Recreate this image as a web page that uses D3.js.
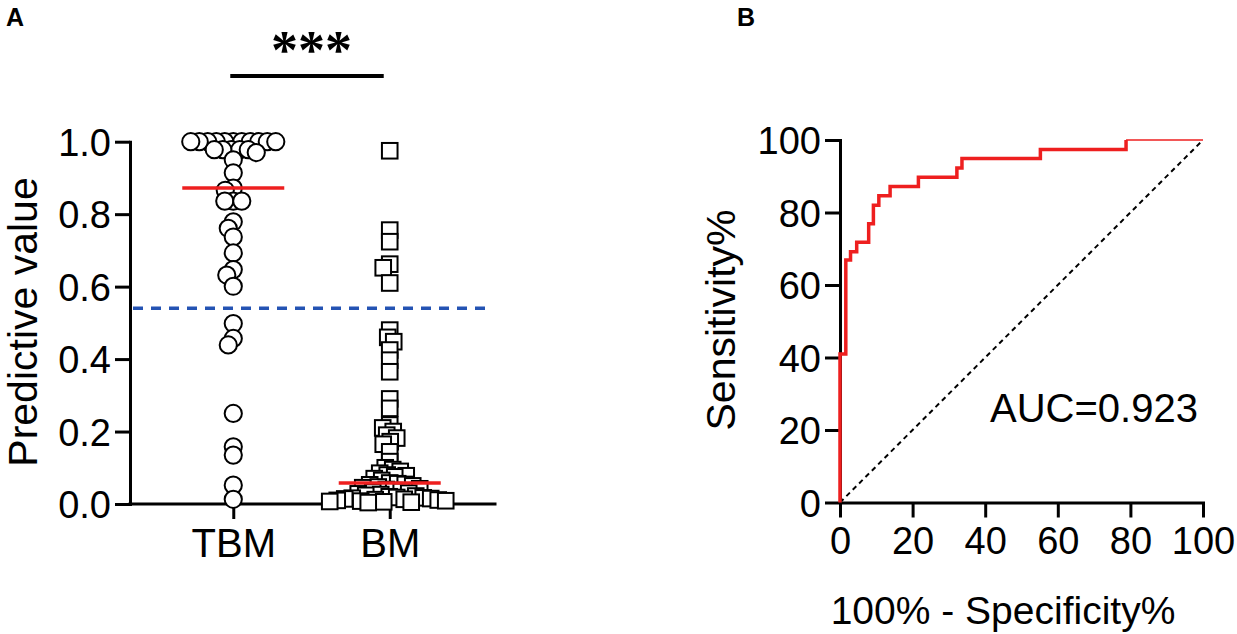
<!DOCTYPE html>
<html><head><meta charset="utf-8">
<script src="https://cdn.jsdelivr.net/npm/d3@7/dist/d3.min.js"></script>
<style>
body{margin:0;background:#fff}
svg text{font-family:"Liberation Sans",Arial,Helvetica,sans-serif;fill:#000}
</style>
</head><body>
<svg id="chart" width="1237" height="634"></svg>
<script>
// ---------------- DATA ----------------
const groups = ["TBM", "BM"];
const tbmValues = [1.0,1.0,1.0,1.0,1.0,1.0,1.0,1.0,1.0,1.0,1.0,0.978,0.978,0.978,0.978,0.978,
  0.97,0.95,0.914,0.872,0.866,0.836,0.836,0.836,0.779,0.761,0.737,0.693,0.647,0.632,0.601,
  0.498,0.457,0.439,0.25,0.158,0.135,0.052,0.013];
const bmValues = [0.975,0.756,0.724,0.662,0.652,0.610,0.48,0.46,0.448,0.425,0.397,0.365,0.29,0.264,
  0.218,0.21,0.2,0.19,0.182,0.172,0.165,0.144,0.117,
  0.1,0.095,0.09,0.085,0.08,0.078,0.075,0.07,0.065,0.058,0.056,0.054,0.053,
  0.05,0.047,0.045,0.042,0.04,0.037,0.035,0.033,0.03,0.028,0.026,0.024,0.022,0.02,0.018,
  0.017,0.016,0.015,0.014,0.013,0.012,0.011,0.01,0.009,0.008,0.007,0.006,0.005,0.004];
const cutoffValue = 0.54;
const yTicksA = [0, 0.2, 0.4, 0.6, 0.8, 1.0];
const sigLabel = "***";
const yTitleA = "Predictive value";

const rocFpr  = [0, 0, 1.6, 2.9, 4.6, 7.9, 9.2, 10.7, 13.8, 21.6, 32.2, 33.6, 55.2, 78.8];
const rocSens = [0, 41.0, 66.9, 69.2, 71.8, 76.9, 82.0, 84.6, 87.2, 89.7, 92.3, 94.9, 97.4, 100];
const rocTailFpr = [78.8, 100];
const rocTailSens = [100, 100];
const ticksB = [0, 20, 40, 60, 80, 100];
const aucLabel = "AUC=0.923";
const xTitleB = "100% - Specificity%";
const yTitleB = "Sensitivity%";

// ---------------- STYLE ----------------
const RED = "#ee1f1f", BLUE = "#2453b3";
const svg = d3.select("#chart");

// ---------------- PANEL A ----------------
const xA = d3.scalePoint().domain(groups).range([130, 493]).padding(0.66);
const yA = d3.scaleLinear().domain([0, 1]).range([504, 141.7]);

function styleAxis(g, fs) {
  g.selectAll(".domain").attr("stroke", "#000").attr("stroke-width", 3).attr("stroke-linecap", "square");
  g.selectAll(".tick line").attr("stroke", "#000").attr("stroke-width", 3);
  g.selectAll(".tick text").style("font-size", fs + "px").attr("fill", "#000")
    .style("font-family", "'Liberation Sans',Arial,sans-serif");
}

const gyA = svg.append("g").attr("transform", "translate(130,0)")
  .call(d3.axisLeft(yA).tickValues(yTicksA).tickFormat(d3.format(".1f")).tickSize(15).tickSizeOuter(0).tickPadding(4));
styleAxis(gyA, 38);
gyA.selectAll(".tick text").attr("dy", "0.36em");

const gxA = svg.append("g").attr("transform", "translate(0,504)")
  .call(d3.axisBottom(xA).tickSize(15).tickSizeOuter(0).tickPadding(10));
styleAxis(gxA, 40);
gxA.select(".domain").attr("d", `M130,0H495`);
gxA.selectAll(".tick text").attr("dy", "0.71em");

// swarm layout (deterministic, collision based)
function swarm(values, cx, minDist) {
  const idx = values.map((v, i) => i).sort((a, b) => values[b] - values[a]);
  const placed = [];
  const out = new Array(values.length);
  for (const i of idx) {
    const py = yA(values[i]);
    let off = 0;
    for (let k = 0; k < 400; k++) {
      const cand = (k % 2 === 0 ? 1 : -1) * Math.ceil(k / 2) * 0.5;
      const px = cx + cand;
      const ok = placed.every(p => (p.x - px) ** 2 + (p.y - py) ** 2 >= minDist * minDist);
      if (ok) { off = cand; break; }
    }
    const pt = { x: cx + off, y: py, v: values[i] };
    placed.push(pt); out[i] = pt;
  }
  return out;
}

const tbmPts = swarm(tbmValues, xA("TBM"), 8.2);
const bmPts = swarm(bmValues, xA("BM"), 7.4);

// cutoff dashed line
svg.append("line").attr("x1", 133).attr("x2", 491)
  .attr("y1", yA(cutoffValue)).attr("y2", yA(cutoffValue))
  .attr("stroke", BLUE).attr("stroke-width", 3.5).attr("stroke-dasharray", "10,8");

svg.append("g").selectAll("circle").data(tbmPts).join("circle")
  .attr("cx", d => d.x).attr("cy", d => d.y).attr("r", 8.6)
  .attr("fill", "#fff").attr("stroke", "#000").attr("stroke-width", 2);

svg.append("g").selectAll("rect").data(bmPts).join("rect")
  .attr("x", d => d.x - 7.8).attr("y", d => d.y - 7.8).attr("width", 15.6).attr("height", 15.6)
  .attr("fill", "#fff").attr("stroke", "#000").attr("stroke-width", 2);

// medians
const medians = [d3.median(tbmValues), d3.median(bmValues)];
svg.append("g").selectAll("line").data(groups).join("line")
  .attr("x1", g => xA(g) - 51).attr("x2", g => xA(g) + 51)
  .attr("y1", (g, i) => yA(medians[i])).attr("y2", (g, i) => yA(medians[i]))
  .attr("stroke", RED).attr("stroke-width", 3.5);

// significance
svg.append("line").attr("x1", xA("TBM") - 3).attr("x2", xA("BM") - 6).attr("y1", 76).attr("y2", 76)
  .attr("stroke", "#000").attr("stroke-width", 4);
svg.append("text").attr("x", (xA("TBM") + xA("BM")) / 2).attr("y", 68)
  .attr("text-anchor", "middle").style("font-family", "'Liberation Serif','Times New Roman',serif")
  .style("font-weight", "bold").style("font-size", "54px").text(sigLabel);

svg.append("text").attr("transform", "translate(37,322) rotate(-90)").attr("text-anchor", "middle")
  .style("font-size", "41px").text(yTitleA);

svg.append("text").attr("x", 6).attr("y", 26).style("font-size", "25px").style("font-weight", "bold").text("A");

// ---------------- PANEL B ----------------
const xB = d3.scaleLinear().domain([0, 100]).range([840, 1203]);
const yB = d3.scaleLinear().domain([0, 100]).range([502.5, 140]);

const gyB = svg.append("g").attr("transform", "translate(840,0)")
  .call(d3.axisLeft(yB).tickValues(ticksB).tickSize(15).tickSizeOuter(0).tickPadding(4));
styleAxis(gyB, 38);
gyB.selectAll(".tick text").attr("dy", "0.36em");

const gxB = svg.append("g").attr("transform", "translate(0,502.5)")
  .call(d3.axisBottom(xB).tickValues(ticksB).tickSize(15).tickSizeOuter(0).tickPadding(10));
styleAxis(gxB, 38);
gxB.selectAll(".tick text").attr("dy", "0.71em");

// diagonal
svg.append("line").attr("x1", xB(0)).attr("y1", yB(0)).attr("x2", xB(100)).attr("y2", yB(100))
  .attr("stroke", "#000").attr("stroke-width", 2).attr("stroke-dasharray", "5,4");

const rocLine = d3.line().x(d => xB(d[0])).y(d => yB(d[1])).curve(d3.curveStepAfter);
svg.append("path").attr("d", rocLine(rocFpr.map((f, i) => [f, rocSens[i]])))
  .attr("fill", "none").attr("stroke", RED).attr("stroke-width", 3.5);
svg.append("path").attr("d", rocLine(rocTailFpr.map((f, i) => [f, rocTailSens[i]])))
  .attr("fill", "none").attr("stroke", RED).attr("stroke-width", 1.5);

svg.append("text").attr("x", 990).attr("y", 422).style("font-size", "40px").text(aucLabel);
svg.append("text").attr("x", 1003).attr("y", 624).attr("text-anchor", "middle").style("font-size", "39px").text(xTitleB);
svg.append("text").attr("transform", "translate(735,320) rotate(-90)").attr("text-anchor", "middle")
  .style("font-size", "41px").text(yTitleB);
svg.append("text").attr("x", 737).attr("y", 26).style("font-size", "25px").style("font-weight", "bold").text("B");
</script>
</body></html>
